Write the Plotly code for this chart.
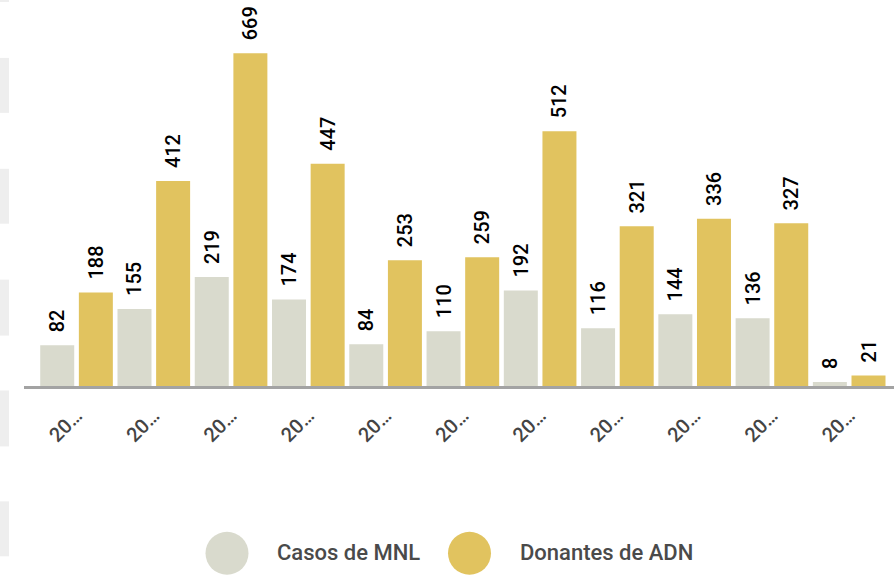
import plotly.graph_objects as go

# ---- data ----
categories = list(range(11))
tick_labels = ["20…"] * 11
series_names = ["Casos de MNL", "Donantes de ADN"]
casos_mnl = [82, 155, 219, 174, 84, 110, 192, 116, 144, 136, 8]
donantes_adn = [188, 412, 669, 447, 253, 259, 512, 321, 336, 327, 21]

colors = ["#d9dacd", "#e1c35f"]

W_FIG, H_FIG = 894, 577
L, R, T, B = 24, 0, 0, 190.5
PW = W_FIG - L - R
PH = H_FIG - T - B


def px_x(px):
    return (px - L) / PW


def px_y(py):
    return (H_FIG - B - py) / PH


fig = go.Figure()
for name, vals, col in zip(series_names, [casos_mnl, donantes_adn], colors):
    fig.add_trace(go.Bar(
        x=categories, y=vals, name=name, marker=dict(color=col, line=dict(width=0)),
        text=vals, texttemplate="\u00a0\u00a0%{text}", textposition="outside", textangle=-90,
        constraintext="none",
        textfont=dict(family="Roboto", size=20, color="#000000", weight=500),
        cliponaxis=False, showlegend=False,
    ))

shapes = []
# left-edge light strips
for top, bot in [(-5, 2), (58, 113), (169, 224), (280, 336), (391, 447), (502, 557)]:
    shapes.append(dict(type="rect", xref="paper", yref="paper",
                       x0=px_x(0), x1=px_x(9), y0=px_y(bot), y1=px_y(top),
                       fillcolor="#eeeeee", line=dict(width=0), layer="below"))

annotations = []
legend_pos = [(227, 275), (469.5, 518)]
for (cx, tx), name, col in zip(legend_pos, series_names, colors):
    cy, r = 554, 21.5
    shapes.append(dict(type="circle", xref="paper", yref="paper",
                       x0=px_x(cx - r), x1=px_x(cx + r), y0=px_y(cy + r), y1=px_y(cy - r),
                       fillcolor=col, line=dict(width=0)))
    annotations.append(dict(xref="paper", yref="paper", x=px_x(tx), y=px_y(553),
                            xanchor="left", yanchor="middle", showarrow=False, text=name,
                            font=dict(family="Roboto", size=22, color="#4a4a4a", weight=500)))

fig.update_layout(
    width=W_FIG, height=H_FIG,
    margin=dict(l=L, r=R, t=T, b=B, pad=0),
    paper_bgcolor="white", plot_bgcolor="white",
    barmode="group", bargap=0.0, bargroupgap=0.12,
    shapes=shapes, annotations=annotations,
    xaxis=dict(tickmode="array", tickvals=categories, ticktext=tick_labels,
               tickangle=-45, tickfont=dict(family="Roboto", size=20, color="#444444", weight=500),
               ticklabelstandoff=7,
               range=[-0.68, 10.58], showline=True, linecolor="#a3a3a3", linewidth=3,
               showgrid=False, zeroline=False, ticks="", fixedrange=True),
    yaxis=dict(range=[0, 776], visible=False, showgrid=False, zeroline=False, fixedrange=True),
)

fig.write_html("out.html", config={"displayModeBar": False},
               post_script="document.body.style.margin='0px';")
